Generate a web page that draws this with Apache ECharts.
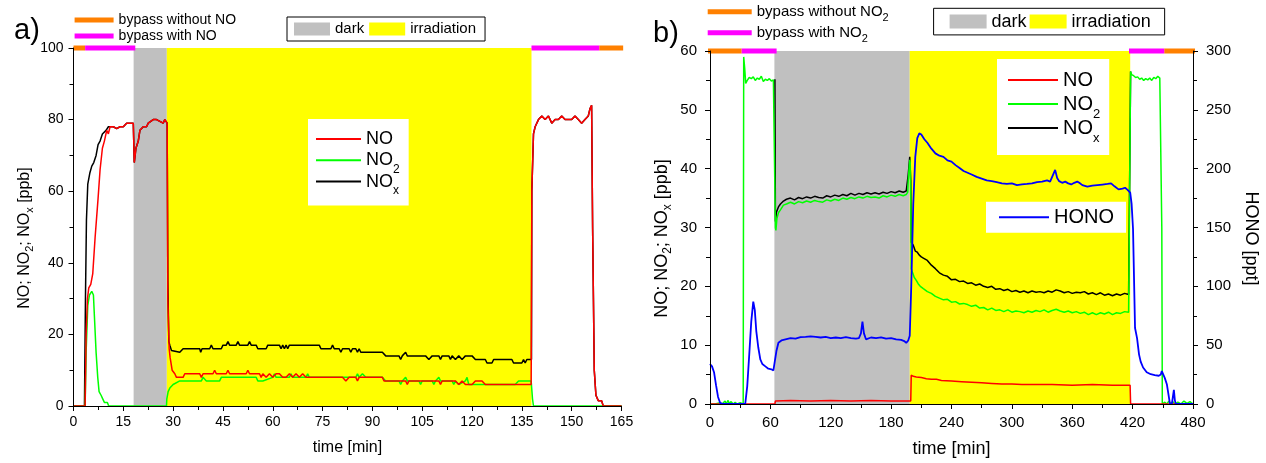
<!DOCTYPE html>
<html><head><meta charset="utf-8">
<script src="https://cdn.jsdelivr.net/npm/echarts@6/dist/echarts.min.js"></script>
<style>html,body{margin:0;padding:0;background:#fff}#c{width:1266px;height:463px}</style>
</head><body><div id="c"></div>
<script>
const FONT = "'Liberation Sans',Arial,sans-serif";

// ---------- Panel a ----------
const darkA = [[18.1, 28.1]];
const irrA = [[28.1, 137.9]];
const bypassOffA = [[0, 3.5], [158.3, 165.5]];
const bypassOnA = [[3.5, 18.6], [137.9, 158.3]];
const noA = [[0,0],[3.5,0],[3.8,20],[4.2,30],[4.6,33],[5.2,34],[5.8,37],[6.5,47],[7.4,58],[8,66],[8.7,72],[9.3,74],[10,77],[10.5,76],[11,78],[12,78],[13,77.5],[14,78],[15,78],[16,79],[17,79],[18,79],[18.3,68],[18.8,72],[19.5,74],[20,77],[21,78],[22,78],[22.5,79],[23,79],[24,80],[25,80],[26,79.5],[26.5,80],[27,79],[27.5,80],[28,79.5],[28.2,79],[28.4,30],[28.8,16],[29.1,13.5],[29.7,10],[30.5,9],[31,8],[33,8],[33.5,9],[38,9],[38.5,8],[39,9],[42,9],[42.5,10],[43,9],[46,9],[46.5,10],[47,9],[52,9],[52.5,10],[53,9],[56,9],[56.5,8],[57,9],[58,8],[59,9],[60,8],[61,9],[62,9],[63,8],[64,8],[65,9],[66,8],[67,9],[68,8],[69,9],[70,8],[75,8],[81,8],[82,7],[83,8],[85,8],[85.5,7],[86,8],[93,8],[93.5,7],[100,7],[100.5,6],[101,7],[110,7],[110.5,6],[111,7],[115,7],[116,6],[117,7],[118,6],[120,6],[121,7],[123,7],[124,6],[130,6],[137.8,6],[138,60],[138.5,76],[139,78],[140,80],[141,81],[142,80],[143,81],[144,79],[145,80],[146,80],[147,81],[148,80],[149,80],[150,80],[151,81],[152,80],[153,79],[154,80],[155,81],[155.5,83],[156,84],[156.3,50],[156.8,10],[157.3,3],[158,1.5],[159,1.5],[159.5,0],[165,0]];
const no2A = [[0,0],[3.5,0],[3.8,15],[4.3,28],[4.8,31],[5.5,32],[6,31],[6.3,25],[6.8,15],[7.3,8],[7.7,4],[8.3,3],[8.8,2],[9.3,1],[9.8,0.5],[10.2,1],[10.6,0],[18,0],[28,0],[28.1,2],[28.5,4],[29,5],[30,6],[32,7],[38.5,7],[39,8],[40,7],[44,7],[44.5,8],[55,8],[55.5,7],[57,7],[60,8],[60.5,9],[61,8],[65,8],[65.5,9],[66,8],[70,8],[70.5,9],[71,8],[85,8],[85.5,9],[86,8],[87,9],[88,8],[93,8],[94,7],[98,7],[98.5,6],[99,7],[100,8],[100.5,7],[104,7],[104.5,6],[105,7],[108,7],[108.5,6],[109,7],[110,8],[110.5,7],[114,7],[114.5,6],[115,7],[116,6],[118,7],[118.5,8],[119,6],[125,6],[133,6],[134,7],[137.8,7],[138.2,2],[138.5,0],[165,0]];
const noxA = [[0,0],[3.3,0],[3.6,30],[3.9,52],[4.3,62],[4.9,65],[5.5,67],[6.1,68],[6.8,70],[7.4,73],[8,74],[8.7,76],[9.8,77],[10.5,78],[11,77.5],[12,78],[13,77.5],[14,78],[15,78],[16,79],[17,79],[18,79],[18.3,68],[18.8,72],[19.5,74],[20,77],[21,78],[22,78],[22.5,79],[23,79],[24,80],[25,80],[26,79.5],[26.5,80],[27,79],[27.5,80],[28,79.5],[28.2,79],[28.4,35],[28.7,18],[29,17],[29.5,15.5],[30,15],[32,15],[33,16],[38,16],[38.3,15],[38.7,16],[41,16],[41.5,17],[42,16],[44.5,16],[45,17],[46,17],[46.5,18],[47,17],[49,17],[49.5,18],[50,17],[52.5,17],[53,18],[53.5,17],[55,17],[55.5,16],[58,16],[58.5,17],[62,17],[62.5,16],[63,17],[63.5,16],[64,17],[64.5,16],[65,17],[74,17],[74.5,16],[77.5,16],[78,17],[78.5,16],[80,16],[80.5,15],[81,16],[83,16],[83.5,15],[84,16],[85,16],[85.5,15],[86,16],[86.5,15],[93,15],[94,14],[98,14],[98.5,13],[99,14],[100,15],[100.5,14],[106,14],[107,13],[108,14],[110,14],[110.5,13],[111,14],[113,14],[113.5,13],[114,14],[115,13],[116,14],[117,13],[118,14],[120,14],[121,13],[124,13],[124.5,12],[126,12],[126.5,13],[132,13],[132.5,12],[135,12],[135.5,13],[136,12],[136.5,13],[137.9,13],[138,60],[138.5,76],[139,78],[140,80],[141,81],[142,80],[143,81],[144,79],[145,80],[146,80],[147,81],[148,80],[149,80],[150,80],[151,81],[152,80],[153,79],[154,80],[155,81],[155.5,83],[156,84],[156.3,50],[156.8,10],[157.3,3],[158,1.5],[159,1.5],[159.5,0],[165,0]];

// ---------- Panel b ----------
const darkB = [[64, 198.5]];
const irrB = [[198.5, 417.6]];
const bypassOffB = [[-2, 31.5], [451.4, 482]];
const bypassOnB = [[31.5, 66.2], [416.4, 451.4]];
const noB = [[0,0],[64.5,0],[65,0.5],[80,0.6],[100,0.5],[120,0.6],[140,0.5],[160,0.6],[180,0.5],[199.5,0.5],[200,4.9],[202,4.7],[205,4.6],[210,4.5],[215,4.3],[220,4.2],[225,4.2],[230,4.0],[240,3.9],[250,3.8],[260,3.7],[270,3.6],[280,3.5],[290,3.4],[300,3.4],[310,3.3],[320,3.3],[340,3.3],[360,3.2],[380,3.3],[400,3.2],[417.5,3.2],[418,0],[480,0]];
const no2B = [[0,0],[5,0],[10,0.2],[12,0],[15,0.5],[16,0],[18,0.6],[19,0.1],[21,0.4],[23,0],[25,0.3],[27,0],[30,0.2],[33,0],[33.5,59],[34.5,57],[35.5,54.5],[37,55],[39,55.5],[41,55.3],[43,55.6],[45,55],[47,55.4],[49,55.2],[51,55.7],[53,54.8],[55,55.2],[57,55],[59,55.3],[61,54.9],[63,55.1],[64.5,55.2],[65,30],[65.5,29.5],[66.5,31.5],[68,32.5],[70,33],[73,33.8],[76,34],[80,34.3],[84,34],[88,34.4],[92,34.2],[96,34.5],[100,34.3],[104,34.6],[108,34.4],[112,34.3],[116,34.7],[120,34.5],[124,34.8],[128,34.6],[132,35],[136,34.8],[140,35.1],[144,34.9],[148,35.2],[152,35],[156,35.3],[160,35.1],[164,35.2],[168,35],[172,35.4],[176,35.2],[180,35.5],[184,35.3],[188,35.6],[192,35.4],[195,35.6],[196.5,36],[197,38],[198.5,41.5],[199,41],[199.5,35],[200,23],[201,22.5],[203,21.5],[205,21],[207,20.4],[209,20],[212,19.6],[216,19.1],[220,18.8],[224,18.3],[228,18],[232,17.7],[236,17.8],[240,17.3],[244,17.4],[248,17],[252,17.1],[256,16.9],[260,16.6],[264,16.8],[268,16.3],[272,16.4],[276,16],[280,16.3],[284,15.9],[288,16],[292,15.7],[296,16],[300,15.6],[304,15.8],[308,15.7],[312,15.5],[316,15.8],[320,15.6],[324,15.9],[328,15.7],[332,16],[336,15.6],[340,15.9],[344,16.1],[348,15.8],[352,15.6],[356,15.8],[360,15.5],[364,15.7],[368,15.4],[372,15.6],[376,15.2],[380,15.5],[384,15.2],[388,15.5],[392,15.3],[396,15.6],[400,15.2],[404,15.5],[408,15.4],[412,15.7],[416,15.6],[417.5,15.6],[418,56.5],[419,56],[421,55.8],[423,55.5],[425,55.6],[427,55.2],[429,55.4],[431,55],[433,55.3],[435,55.1],[437,55.4],[439,55],[441,55.5],[443,55.3],[445,55.7],[447,55.4],[448.5,55.5],[449,30],[449.5,0],[452,0.3],[454,0],[456,0.5],[458,0],[460,0.4],[462,0],[465,0.3],[468,0],[471,0.5],[474,0.1],[477,0.4],[480,0]];
const noxB = [[64.5,55.2],[65,31],[66,32.6],[68,33.5],[70,34],[73,34.5],[76,34.8],[80,35],[84,34.7],[88,35.1],[92,34.9],[96,35.2],[100,35],[104,35.3],[108,35.1],[112,35],[116,35.4],[120,35.2],[124,35.5],[128,35.3],[132,35.6],[136,35.4],[140,35.8],[144,35.5],[148,35.8],[152,35.6],[156,35.9],[160,35.7],[164,35.9],[168,35.7],[172,36],[176,35.8],[180,36.1],[184,35.9],[188,36.2],[192,36],[195,36.2],[196.5,36.5],[197,39],[198.5,42],[199.5,38],[200,27.5],[202,27],[204,26],[206,25.8],[208,25.3],[210,25],[212,24.8],[216,24.4],[220,23.6],[224,23],[228,22.3],[232,21.9],[236,21.7],[240,21.1],[244,21.2],[248,20.8],[252,20.9],[256,20.5],[260,20.6],[264,20.2],[268,20.4],[272,20],[276,19.8],[280,20],[284,19.5],[288,19.6],[292,19.3],[296,19.5],[300,19.1],[304,19.3],[308,19],[312,19.2],[316,18.9],[320,19.2],[324,19],[328,19.1],[332,18.9],[336,19.2],[340,19],[344,19.4],[348,19.2],[352,18.9],[356,19.1],[360,18.8],[364,19],[368,18.9],[372,19.1],[376,18.7],[380,18.9],[384,18.6],[388,18.9],[392,18.5],[396,18.7],[400,18.4],[404,18.7],[408,18.5],[412,18.8],[416,18.6],[417.5,18.6],[418,56.5]];
const honoB = [[0,34],[2,32],[4,27],[6,16],[8,6],[10,1],[13,0],[20,0],[30,0],[35,0],[37,15],[39,42],[41,70],[43,87],[44.5,80],[46,62],[48,48],[50,38],[52,34],[55,32],[58,30],[61,29.5],[63,28.5],[64.5,29],[66,45],[68,52],[71,54],[75,55],[80,56],[85,55.5],[90,56.8],[95,57],[100,57.5],[105,57],[110,56.5],[115,57],[120,56],[125,56.5],[130,56],[135,56.8],[140,56],[145,55.5],[148,56],[150,60],[151.5,70],[153,60],[155,55],[160,56.5],[165,56],[170,56.7],[175,55.5],[180,56],[185,55],[190,54.5],[193,53.5],[195,52],[197,54],[198.5,58],[200,100],[202,170],[204,210],[206,226],[208,230],[210,229],[213,225],[216,222],[220,217],[224,213],[228,211],[232,210],[236,207],[240,206],[244,203],[248,200.6],[252,198],[256,196.5],[260,195],[265,193],[270,191.5],[275,190],[280,189.4],[285,188.5],[290,187.5],[295,187],[300,187.5],[305,186],[310,186.6],[315,187],[320,187.5],[325,188.6],[330,189],[335,190],[338,189],[341,195],[343,199],[345,192],[347,189.4],[350,188],[353,189],[356,187.5],[359,186.6],[362,188],[365,189],[367,188],[370,186],[375,184.7],[380,185.5],[385,186],[390,186.5],[395,187],[398.6,187.5],[402,185],[406,182.4],[410,183],[412.5,183.8],[415,182],[417.6,179.6],[419,170],[420.4,148.7],[422.4,64.6],[424.4,56],[426.4,42],[428,36],[430.4,31],[434,27],[438,25.3],[442,24.5],[446,24],[448,25],[449,28],[450,27],[452,22],[454,16.8],[456,6],[457,0.5],[459,0],[460,6],[461,12],[462,3],[463,0],[470,0],[480,0]];

const ORANGE = '#FF8000', MAGENTA = '#FF00FF', GRAY = '#C0C0C0', YELLOW = '#FFFF00';

function fmt(name){ return name.replace(/NO2/g,'NO{s|2}').replace(/NOx/g,'NO{x|x}'); }
// subscript tokens: height subSize+p, pushed down by the top padding (centre shift = p/2)
function subRich(subSize, p){
  const t = {fontSize:subSize, fontFamily:FONT, color:'#000', lineHeight:subSize, padding:[p,0,0,0]};
  return {s:t, x:Object.assign({}, t)};
}
function bandRenderer(yMax){
  return function(params, api){
    const p0 = api.coord([api.value(0), yMax]);
    const p1 = api.coord([api.value(1), 0]);
    return {type:'rect', shape:{x:p0[0], y:p0[1], width:p1[0]-p0[0], height:p1[1]-p0[1]}, style:{fill: api.visual('color')}};
  };
}
function band(name, data, color, xi, yi, yMax){
  return {type:'custom', name, xAxisIndex:xi, yAxisIndex:yi, data:data.map(iv => [iv[0], iv[1]]), itemStyle:{color}, renderItem:bandRenderer(yMax), encode:{x:[0,1]}, z:1, silent:true};
}
function line(name, data, color, xi, yi, w, z){
  return {type:'line', name, xAxisIndex:xi, yAxisIndex:yi, data, symbol:'none', showSymbol:false, itemStyle:{color}, lineStyle:{color, width:w}, z:z||3, animation:false};
}
function bypass(name, intervals, y, color, xi, yi){
  const d = [];
  intervals.forEach(iv => { d.push([iv[0], y], [iv[1], y], [iv[1], null]); });
  return {type:'line', name, xAxisIndex:xi, yAxisIndex:yi, data:d, symbol:'none', connectNulls:false, clip:false, itemStyle:{color}, lineStyle:{color, width:5}, z:6, animation:false};
}
function xAx(gi, max, interval, labelSize, margin, nameSize, nameGap){
  return {gridIndex:gi, type:'value', min:0, max, interval, z:10,
    axisLine:{show:true, onZero:false, lineStyle:{color:'#000', width:1}},
    axisTick:{show:true, length:5, lineStyle:{color:'#000'}},
    minorTick:{show:true, splitNumber:2, length:4, lineStyle:{color:'#000'}},
    splitLine:{show:false},
    axisLabel:{fontSize:labelSize, color:'#000', fontFamily:FONT, margin},
    name:'time [min]', nameLocation:'middle', nameGap, nameTextStyle:{fontSize:nameSize, color:'#000', fontFamily:FONT}};
}
function yAx(gi, max, interval, labelSize, margin, opts){
  return Object.assign({gridIndex:gi, type:'value', min:0, max, interval, z:10,
    axisLine:{show:true, lineStyle:{color:'#000', width:1}},
    axisTick:{show:true, length:5, lineStyle:{color:'#000'}},
    minorTick:{show:true, splitNumber:2, length:4, lineStyle:{color:'#000'}},
    splitLine:{show:false},
    axisLabel:{fontSize:labelSize, color:'#000', fontFamily:FONT, margin}}, opts);
}
const txt = (size, L, extra) => Object.assign({fontSize:size, lineHeight:L, color:'#000', fontFamily:FONT}, extra || {});

const option = {
  animation:false,
  backgroundColor:'#fff',
  textStyle:{fontFamily:FONT},
  title:[
    {text:'a)', left:14, top:16, padding:0, textStyle:{fontSize:29, fontWeight:'normal', color:'#000', fontFamily:FONT}},
    {text:'b)', left:653, top:19, padding:0, textStyle:{fontSize:29, fontWeight:'normal', color:'#000', fontFamily:FONT}}
  ],
  grid:[
    {left:73.5, right:644.5, top:48, bottom:57},
    {left:710, right:73, top:51, bottom:56}
  ],
  xAxis:[ xAx(0,165,15,14,9,16,34), xAx(1,480,60,15,11,18,36) ],
  yAxis:[
    yAx(0,100,20,14,10,{name:'NO; NO{s|2}; NO{x|x} [ppb]', nameLocation:'middle', nameGap:38,
      nameTextStyle:txt(16, 21, {padding:[0,22,0,0], rich:subRich(11, 10)})}),
    yAx(1,60,10,15,13,{name:'NO; NO{s|2}; NO{x|x} [ppb]', nameLocation:'middle', nameGap:36,
      nameTextStyle:txt(18, 24, {padding:[0,22,0,0], rich:subRich(12, 12)})}),
    yAx(1,300,50,15,13,{position:'right', name:'HONO [ppt]', nameLocation:'middle', nameRotate:-90, nameGap:47,
      nameTextStyle:txt(18, 22, {padding:[0,0,0,22]})})
  ],
  legend:[
    {data:['bypass without NO','bypass with NO'], orient:'vertical', left:74.6, top:12, padding:0, itemWidth:39, itemHeight:5, itemGap:0, icon:'rect', selectedMode:false, formatter:fmt, textStyle:txt(14, 16)},
    {data:['dark','irradiation'], left:287, top:17, itemWidth:36, itemHeight:13, itemGap:5, icon:'rect', selectedMode:false, borderColor:'#000', borderWidth:1, backgroundColor:'#fff', padding:[3,9,3,7], textStyle:txt(15, 18)},
    {data:['NO','NO2','NOx'], orient:'vertical', left:308, top:119, itemWidth:45, itemHeight:2, itemGap:-8.7, icon:'rect', selectedMode:false, backgroundColor:'#fff', padding:[5,9,9,8], formatter:fmt, textStyle:txt(18, 30, {rich:subRich(12, 18)})},
    {data:['bypass without NO2','bypass with NO2'], orient:'vertical', left:707.7, top:-0.3, padding:0, itemWidth:44, itemHeight:5, itemGap:-3, icon:'rect', selectedMode:false, formatter:fmt, textStyle:txt(15, 24, {rich:subRich(11, 13)})},
    {data:['dark','irradiation'], left:933.6, top:8.3, itemWidth:37, itemHeight:14, itemGap:3, icon:'rect', selectedMode:false, borderColor:'#000', borderWidth:1, backgroundColor:'#fff', padding:[3.3,14,3.3,16], textStyle:txt(18, 20)},
    {data:['NO','NO2','NOx'], orient:'vertical', left:997, top:59, itemWidth:50, itemHeight:2, itemGap:-9, icon:'rect', selectedMode:false, backgroundColor:'#fff', padding:[4.5,9,10.5,11], formatter:fmt, textStyle:txt(20, 33, {rich:subRich(13, 20)})},
    {data:['HONO'], left:986, top:201.7, itemWidth:50, itemHeight:2, icon:'rect', selectedMode:false, backgroundColor:'#fff', padding:[4.5,12,4.5,13], textStyle:txt(20, 22)}
  ],
  series:[
    band('dark', darkA, GRAY, 0, 0, 100),
    band('irradiation', irrA, YELLOW, 0, 0, 100),
    line('NOx', noxA, '#000', 0, 0, 1.5, 3),
    line('NO2', no2A, '#00FF00', 0, 0, 1.5, 4),
    line('NO', noA, '#FF0000', 0, 0, 1.5, 5),
    bypass('bypass without NO', bypassOffA, 100, ORANGE, 0, 0),
    bypass('bypass with NO', bypassOnA, 100, MAGENTA, 0, 0),
    band('dark', darkB, GRAY, 1, 1, 60),
    band('irradiation', irrB, YELLOW, 1, 1, 60),
    line('NOx', noxB, '#000', 1, 1, 1.5, 3),
    line('NO2', no2B, '#00FF00', 1, 1, 1.5, 4),
    line('NO', noB, '#FF0000', 1, 1, 1.5, 5),
    line('HONO', honoB, '#0000FF', 1, 2, 1.8, 5),
    bypass('bypass without NO2', bypassOffB, 60, ORANGE, 1, 1),
    bypass('bypass with NO2', bypassOnB, 60, MAGENTA, 1, 1)
  ]
};
const chart = echarts.init(document.getElementById('c'), null, {renderer:'canvas'});
chart.setOption(option);
</script></body></html>
